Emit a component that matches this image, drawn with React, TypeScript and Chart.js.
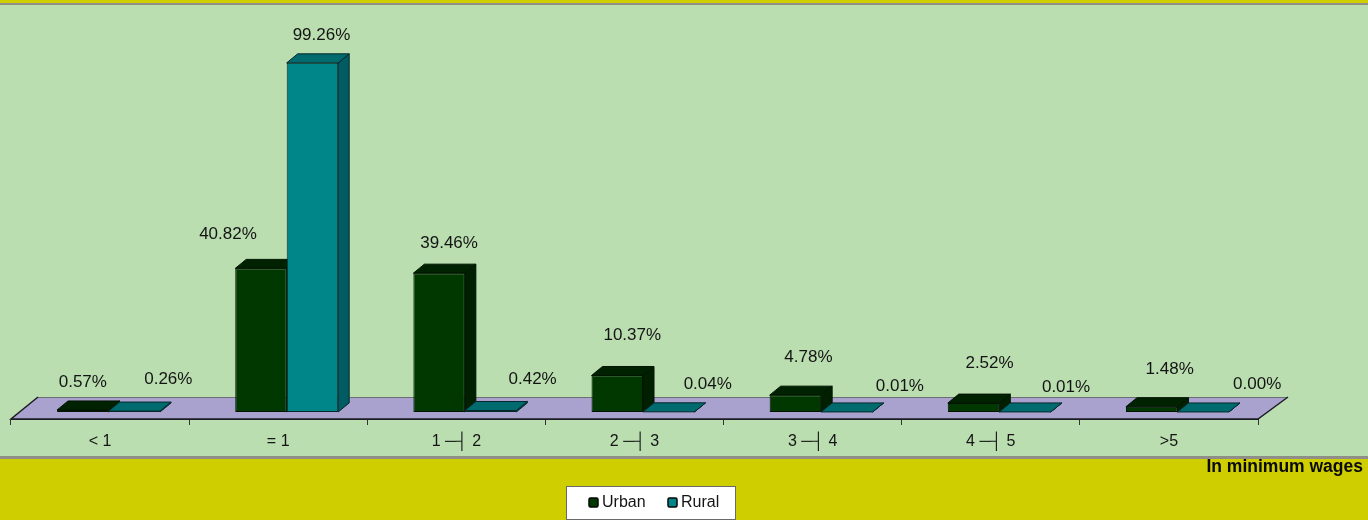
import React, { useEffect, useRef } from "react";
import { Chart, registerables } from "chart.js";

Chart.register(...registerables);

const categories = ["< 1", "= 1", "1 ─┤ 2", "2 ─┤ 3", "3 ─┤ 4", "4 ─┤ 5", ">5"];
const urbanValues = [0.57, 40.82, 39.46, 10.37, 4.78, 2.52, 1.48];
const ruralValues = [0.26, 99.26, 0.42, 0.04, 0.01, 0.01, 0.0];
const axisNote = "In minimum wages";

// hand-placed label nudges of the reference, relative to each bar's top centre
const urbanLabelNudges = [[0, -28], [-33, -34], [10, -30], [15, -40], [13, -38], [16, -40], [18, -37]];
const ruralLabelNudges = [[34, -32], [9, -28], [42, -31], [39, -28], [53, -26], [41, -25], [54, -28]];

const FONT = "'Liberation Sans', Arial, sans-serif";
const SHIFT_X = 8.5;
const DEPTH_X = 11;
const DEPTH_Y = 9;

const shades = [
  { top: "#002200", side: "#002000", edge: "#001400" },
  { top: "#006b6e", side: "#005c62", edge: "#06282a" },
];

function drawExtrusion(chart: any, index: number) {
  const { ctx } = chart;
  const shade = shades[index];
  chart.getDatasetMeta(index).data.forEach((bar: any) => {
    const { x, y, base, width } = bar.getProps(["x", "y", "base", "width"], true);
    const a = x - width / 2;
    const c = x + width / 2;
    ctx.lineWidth = 1;
    ctx.lineJoin = "round";
    ctx.strokeStyle = shade.edge;
    ctx.fillStyle = shade.side;
    ctx.beginPath();
    ctx.moveTo(c, y);
    ctx.lineTo(c + DEPTH_X, y - DEPTH_Y);
    ctx.lineTo(c + DEPTH_X, base - DEPTH_Y);
    ctx.lineTo(c, base);
    ctx.closePath();
    ctx.fill();
    ctx.stroke();
    ctx.fillStyle = shade.top;
    ctx.beginPath();
    ctx.moveTo(a, y);
    ctx.lineTo(a + DEPTH_X, y - DEPTH_Y);
    ctx.lineTo(c + DEPTH_X, y - DEPTH_Y);
    ctx.lineTo(c, y);
    ctx.closePath();
    ctx.fill();
    ctx.stroke();
  });
}

const scene = {
  id: "scene",
  beforeDraw(chart: any) {
    const { ctx, width, height } = chart;
    ctx.save();
    ctx.fillStyle = "#CFCE00";
    ctx.fillRect(0, 0, width, height);
    ctx.fillStyle = "#BADEB0";
    ctx.fillRect(0, 5, width, 451);
    ctx.fillStyle = "#8f8f88";
    ctx.fillRect(0, 3, width, 2);
    ctx.fillRect(0, 456, width, 3);
    ctx.restore();
  },
  beforeDatasetsDraw(chart: any) {
    const { ctx, chartArea } = chart;
    const l = chartArea.left;
    const r = chartArea.right;
    const b = chartArea.bottom;
    const t = b - 22;
    ctx.save();
    ctx.beginPath();
    ctx.moveTo(l, b);
    ctx.lineTo(r, b);
    ctx.lineTo(r + 30, t);
    ctx.lineTo(l + 27, t);
    ctx.closePath();
    ctx.fillStyle = "#A9A2CF";
    ctx.fill();
    ctx.lineWidth = 1;
    ctx.strokeStyle = "#6d6d72";
    ctx.beginPath();
    ctx.moveTo(l + 27, t + 0.5);
    ctx.lineTo(r + 30, t + 0.5);
    ctx.stroke();
    ctx.strokeStyle = "#1c1c24";
    ctx.lineWidth = 1.5;
    ctx.beginPath();
    ctx.moveTo(l + 27, t);
    ctx.lineTo(l, b);
    ctx.lineTo(r, b);
    ctx.lineTo(r + 30, t);
    ctx.stroke();
    // the first series' depth faces lie behind everything else in the scene
    ctx.translate(SHIFT_X, 0);
    drawExtrusion(chart, 0);
    ctx.restore();
  },
  beforeDatasetDraw(chart: any) {
    chart.ctx.save();
    chart.ctx.translate(SHIFT_X, 0);
  },
  afterDatasetDraw(chart: any, args: any) {
    if (args.index === 1) drawExtrusion(chart, 1);
    chart.ctx.restore();
  },
  afterDatasetsDraw(chart: any) {
    const { ctx, data, width } = chart;
    ctx.save();
    ctx.fillStyle = "#141414";
    ctx.font = `17px ${FONT}`;
    ctx.textAlign = "center";
    ctx.textBaseline = "middle";
    const nudges = [urbanLabelNudges, ruralLabelNudges];
    data.datasets.forEach((ds: any, di: number) => {
      chart.getDatasetMeta(di).data.forEach((bar: any, i: number) => {
        const [dx, dy] = nudges[di][i];
        ctx.fillText(`${ds.data[i].toFixed(2)}%`, bar.x + SHIFT_X + dx, bar.y + dy);
      });
    });

    ctx.fillStyle = "#0a0a0a";
    ctx.font = `bold 17.5px ${FONT}`;
    ctx.textAlign = "right";
    ctx.fillText(axisNote, width - 5, 467);

    // legend
    ctx.fillStyle = "#ffffff";
    ctx.strokeStyle = "#6a6a6a";
    ctx.lineWidth = 1;
    ctx.fillRect(566.5, 486.5, 169, 33);
    ctx.strokeRect(566.5, 486.5, 169, 33);
    ctx.font = `16px ${FONT}`;
    ctx.textAlign = "left";
    const spots = [{ box: 589, text: 602 }, { box: 668, text: 681 }];
    data.datasets.forEach((ds: any, di: number) => {
      ctx.fillStyle = ds.backgroundColor;
      ctx.strokeStyle = "#050505";
      ctx.lineWidth = 1.5;
      ctx.beginPath();
      ctx.roundRect(spots[di].box, 498, 9, 9, 1.5);
      ctx.fill();
      ctx.stroke();
      ctx.fillStyle = "#141414";
      ctx.fillText(ds.label, spots[di].text, 503);
    });
    ctx.restore();
  },
};

export default function App() {
  const ref = useRef<HTMLCanvasElement | null>(null);
  useEffect(() => {
    const chart = new Chart(ref.current as HTMLCanvasElement, {
      type: "bar",
      data: {
        labels: categories,
        datasets: [
          { label: "Urban", data: urbanValues, backgroundColor: "#003800", borderColor: "#001400", borderWidth: 1, borderSkipped: false },
          { label: "Rural", data: ruralValues, backgroundColor: "#008689", borderColor: "#06282a", borderWidth: 1, borderSkipped: false },
        ],
      },
      options: {
        animation: false,
        responsive: false,
        layout: { padding: { left: 11, right: 110, top: 24, bottom: 0 } },
        datasets: { bar: { barPercentage: 1, categoryPercentage: 0.578 } },
        plugins: { legend: { display: false }, tooltip: { enabled: false }, title: { display: false } },
        scales: {
          x: {
            grid: { drawOnChartArea: false, drawTicks: true, tickLength: 6, color: "#333333" },
            border: { color: "#1c1c24" },
            ticks: { color: "#141414", font: { family: FONT, size: 16 }, padding: 7, maxRotation: 0, autoSkip: false },
            afterFit(scale: any) {
              scale.height = 101;
            },
          },
          y: { display: false, min: -2, max: 110.3, grid: { display: false } },
        },
      },
      plugins: [scene],
    } as any);
    return () => chart.destroy();
  }, []);
  return (
    <div style={{ position: "absolute", left: 0, top: 0, width: 1368, height: 520 }}>
      <canvas ref={ref} width={1368} height={520} style={{ display: "block" }} />
    </div>
  );
}
